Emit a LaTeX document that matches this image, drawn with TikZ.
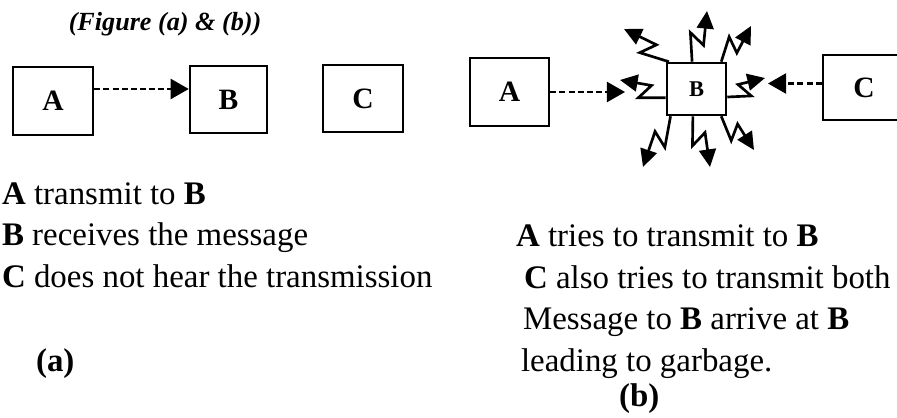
\documentclass[tikz,border=0pt]{standalone}
\usepackage{fontspec}
\setmainfont{Liberation Serif}
\usetikzlibrary{arrows.meta, positioning, calc}
\tikzset{
  every picture/.style={line width=1.5pt},
  box/.style={draw, line width=1.8pt, inner sep=0pt, font=\fontsize{21}{21}\selectfont\bfseries},
  dasharrow/.style={dash pattern=on 4.3pt off 2.2pt, line width=1.5pt, -{Triangle[length=0.45cm, width=0.5cm]}},
  zap/.style={line width=1.9pt, -{Triangle[length=0.44cm, width=0.42cm]}},
  zapa/.style={zap, to path={-- ($(\tikztostart)!0.52!(\tikztotarget)!7pt!90:(\tikztotarget)$) -- ($(\tikztostart)!0.36!(\tikztotarget)!4.5pt!-90:(\tikztotarget)$) -- (\tikztotarget)}},
  zapb/.style={zap, to path={-- ($(\tikztostart)!0.52!(\tikztotarget)!7pt!-90:(\tikztotarget)$) -- ($(\tikztostart)!0.36!(\tikztotarget)!4.5pt!90:(\tikztotarget)$) -- (\tikztotarget)}},
  title/.style={font=\fontsize{18.6}{18.6}\selectfont\bfseries\itshape},
  txt/.style={anchor=base west, inner sep=0pt, font=\fontsize{23.4}{28}\selectfont},
}

\begin{document}
\begin{tikzpicture}[x=0.025cm, y=-0.025cm]
  \useasboundingbox (0,0) rectangle (897,418);
  \node[title] (ttl) at (165,24) {(Figure (a) \& (b))};
  % figure (a)
  \node[box, minimum width=2cm, minimum height=1.7cm] (a) at (53,101) {A};
  \node[box, minimum width=1.925cm, minimum height=1.675cm] (b) at (228.5,99.5) {B};
  \node[box, minimum width=2cm, minimum height=1.675cm] (c) at (363,98.5) {C};
  \draw[dasharrow] ([yshift=3mm]a.east) -- ([yshift=3mm]a.east -| b.west);
  % figure (b)
  \node[box, minimum width=1.975cm, minimum height=1.7cm] (a2) at (509.5,92) {A};
  \node[box, minimum width=1.475cm, minimum height=1.3cm, font=\fontsize{16}{16}\selectfont\bfseries] (b2) at (696.5,89) {B};
  \node[box, minimum width=2.05cm, minimum height=1.625cm] (c2) at (864,87.5) {C};
  \coordinate (ta) at (625,91);
  \coordinate (tc) at (768,83);
  \draw[dasharrow] (a2.east) -- (a2.east -| ta);
  \draw[dasharrow] ([yshift=1mm]c2.west) -- ([yshift=1mm]c2.west -| tc);
  % garbage bursts round B
  \coordinate (s1) at ([yshift=-2.2mm]b2.west);
  \coordinate (s2) at ([xshift=0.8mm]b2.north west);
  \coordinate (s3) at ([xshift=-1.1mm]b2.north);
  \coordinate (s4) at ([xshift=-1.5mm]b2.north east);
  \coordinate (s5) at ([yshift=-2mm]b2.east);
  \coordinate (s6) at ([xshift=-1.5mm]b2.south east);
  \coordinate (s7) at ([xshift=-0.9mm]b2.south);
  \coordinate (s8) at ([xshift=1.2mm]b2.south west);
  \foreach \n/\x/\y in {1/620/80, 2/624/29, 3/707/11, 4/751/26, 5/765/78, 6/754/150, 7/710/167, 8/643/167}
    \coordinate (t\n) at (\x,\y);
  \foreach \n/\z in {1/zapa, 2/zapa, 3/zapa, 4/zapa, 5/zapb, 6/zapb, 7/zapb, 8/zapa}
    \draw[\z] (s\n) to (t\n);
  % texts
  \foreach \x/\y/\t [count=\i] in {1/205/{\textbf{A} transmit to \textbf{B}},
                                   1/246/{\textbf{B} receives the message},
                                   1/288/{\textbf{C} does not hear the transmission},
                                   515/247/{\textbf{A} tries to transmit to \textbf{B}},
                                   523/289/{\textbf{C} also tries to transmit both},
                                   522/330/{Message to \textbf{B} arrive at \textbf{B}},
                                   520/372/{leading to garbage.}}
    \node[txt] (line\i) at (\x,\y) {\t};
  \node[txt, font=\fontsize{23.4}{28}\selectfont\bfseries] (capa) at (35,372) {(a)};
  \node[txt, font=\fontsize{23.4}{28}\selectfont\bfseries] (capb) at (618,407) {(b)};
\end{tikzpicture}
\end{document}
